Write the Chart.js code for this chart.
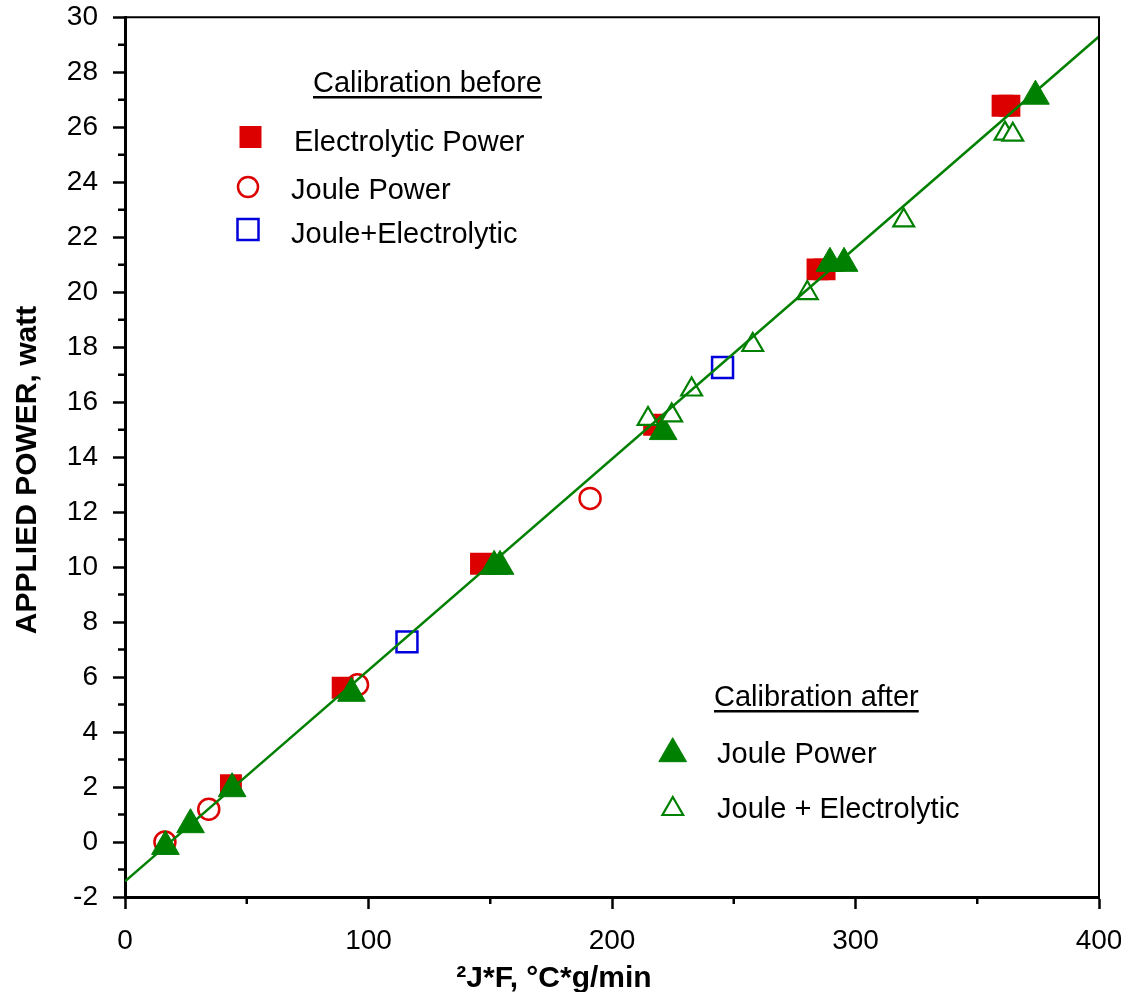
<!DOCTYPE html>
<html>
<head>
<meta charset="utf-8">
<script src="https://cdn.jsdelivr.net/npm/chart.js@4.4.1/dist/chart.umd.min.js"></script>
<style>
  html, body { margin: 0; padding: 0; background: #ffffff; }
  #wrap { width: 1121px; height: 992px; }
</style>
</head>
<body>
<div id="wrap"><canvas id="c" width="1121" height="992"></canvas></div>
<script>
// ---- Data ----
// Calibration before
const electrolyticX = [43.5, 89.4, 146.2, 217.3, 284.4, 287.3, 360.4, 363.2];
const electrolyticY = [2.07, 5.61, 10.12, 15.18, 20.83, 20.83, 26.78, 26.78];
const jouleBeforeX = [16.4, 34.4, 95.5, 191.0];
const jouleBeforeY = [0.0, 1.19, 5.72, 12.5];
const jouleElecBeforeX = [115.8, 245.4];
const jouleElecBeforeY = [7.28, 17.26];
// Calibration after
const jouleAfterX = [16.6, 26.9, 44.0, 93.0, 151.6, 154.0, 221.0, 289.5, 295.3, 373.9];
const jouleAfterY = [-0.16, 0.63, 1.94, 5.41, 10.03, 10.03, 14.93, 21.05, 21.05, 27.13];
const jouleElecAfterX = [214.8, 224.5, 232.7, 257.8, 280.2, 319.8, 361.4, 364.6];
const jouleElecAfterY = [15.39, 15.52, 16.46, 18.08, 19.97, 22.61, 25.77, 25.73];
// Fitted line
const fitX = [0, 400];
const fitY = [-1.43, 29.3];
// Axes
const xMin = 0, xMax = 400, xStep = 100, xMinorTicks = [50, 150, 250, 350];
const yMin = -2, yMax = 30, yStep = 2, yMinorTicks = [-1, 1, 3, 5, 7, 9, 11, 13, 15, 17, 19, 21, 23, 25, 27, 29];
const xTitle = '\u00B2J*F, \u00B0C*g/min';
const yTitle = 'APPLIED POWER, watt';

const RED = '#DD0000', GREEN = '#008000', BLUE = '#0000DD';
const FONT = '"Liberation Sans", Arial, Helvetica, sans-serif';

function pts(xs, ys) { return xs.map((x, i) => ({ x: x, y: ys[i] })); }

const overlay = {
  id: 'overlay',
  afterDraw(chart) {
    const ctx = chart.ctx;
    const ca = chart.chartArea;
    const xs = chart.scales.x, ys = chart.scales.y;
    ctx.save();
    // frame top & right
    ctx.strokeStyle = '#000';
    ctx.lineWidth = 2;
    ctx.beginPath();
    ctx.moveTo(ca.left, ca.top);
    ctx.lineTo(ca.right, ca.top);
    ctx.lineTo(ca.right, ca.bottom);
    ctx.stroke();
    // minor ticks
    ctx.lineWidth = 2.5;
    ctx.beginPath();
    xMinorTicks.forEach(v => {
      const px = xs.getPixelForValue(v);
      ctx.moveTo(px, ca.bottom);
      ctx.lineTo(px, ca.bottom + 7);
    });
    yMinorTicks.forEach(v => {
      const py = ys.getPixelForValue(v);
      ctx.moveTo(ca.left, py);
      ctx.lineTo(ca.left - 7, py);
    });
    ctx.stroke();

    // axis titles
    ctx.fillStyle = '#000';
    ctx.font = 'bold 30px ' + FONT;
    ctx.textAlign = 'center';
    ctx.textBaseline = 'alphabetic';
    ctx.fillText(xTitle, 554, 987);
    ctx.save();
    ctx.translate(36, 470);
    ctx.rotate(-Math.PI / 2);
    ctx.fillText(yTitle, 0, 0);
    ctx.restore();

    // legend texts
    ctx.font = '29px ' + FONT;
    ctx.textAlign = 'left';
    const under = (t, x, y) => {
      ctx.fillText(t, x, y);
      const w = ctx.measureText(t).width;
      ctx.fillRect(x, y + 4, w, 2.5);
    };
    under('Calibration before', 313, 92);
    ctx.fillText('Electrolytic Power', 294, 151);
    ctx.fillText('Joule Power', 291, 199);
    ctx.fillText('Joule+Electrolytic', 291, 243);
    under('Calibration after', 714, 706);
    ctx.fillText('Joule Power', 717, 763);
    ctx.fillText('Joule + Electrolytic', 717, 818);

    // legend markers
    ctx.fillStyle = RED;
    ctx.fillRect(250.5 - 11, 137 - 11, 22, 22);
    ctx.strokeStyle = RED;
    ctx.lineWidth = 2.5;
    ctx.beginPath();
    ctx.arc(248, 187, 10, 0, Math.PI * 2);
    ctx.stroke();
    ctx.strokeStyle = BLUE;
    ctx.strokeRect(248 - 10.5, 229.5 - 10.5, 21, 21);
    const tri = (cx, cy, r) => {
      ctx.beginPath();
      ctx.moveTo(cx, cy - r);
      ctx.lineTo(cx + r * Math.sin(2 * Math.PI / 3), cy + r / 2);
      ctx.lineTo(cx - r * Math.sin(2 * Math.PI / 3), cy + r / 2);
      ctx.closePath();
    };
    ctx.fillStyle = GREEN;
    ctx.strokeStyle = GREEN;
    ctx.lineWidth = 1;
    tri(672.7, 753.7, 16);
    ctx.fill();
    ctx.stroke();
    ctx.lineWidth = 2.2;
    tri(672.8, 809, 12);
    ctx.stroke();
    ctx.restore();
  }
};

new Chart(document.getElementById('c'), {
  type: 'scatter',
  data: {
    datasets: [
      {
        label: 'fit',
        type: 'line',
        data: pts(fitX, fitY),
        borderColor: GREEN,
        borderWidth: 2.5,
        pointRadius: 0,
        fill: false,
        tension: 0
      },
      {
        label: 'Joule + Electrolytic (after)',
        data: pts(jouleElecAfterX, jouleElecAfterY),
        pointStyle: 'triangle',
        pointRadius: 12,
        pointBorderWidth: 2.2,
        pointBorderColor: GREEN,
        pointBackgroundColor: '#ffffff'
      },
      {
        label: 'Joule Power (after)',
        data: pts(jouleAfterX, jouleAfterY),
        pointStyle: 'triangle',
        pointRadius: 16,
        pointBorderWidth: 1,
        pointBorderColor: GREEN,
        pointBackgroundColor: GREEN
      },
      {
        label: 'Joule+Electrolytic (before)',
        data: pts(jouleElecBeforeX, jouleElecBeforeY),
        pointStyle: 'rect',
        pointRadius: 14.8,
        pointBorderWidth: 2.5,
        pointBorderColor: BLUE,
        pointBackgroundColor: 'rgba(0,0,0,0)'
      },
      {
        label: 'Joule Power (before)',
        data: pts(jouleBeforeX, jouleBeforeY),
        pointStyle: 'circle',
        pointRadius: 10.5,
        pointBorderWidth: 2.5,
        pointBorderColor: RED,
        pointBackgroundColor: 'rgba(0,0,0,0)'
      },
      {
        label: 'Electrolytic Power',
        data: pts(electrolyticX, electrolyticY),
        pointStyle: 'rect',
        pointRadius: 15.5,
        pointBorderWidth: 0,
        pointBorderColor: RED,
        pointBackgroundColor: RED
      }
    ]
  },
  options: {
    responsive: false,
    animation: false,
    devicePixelRatio: 1,
    layout: { padding: { top: 17, right: 22, left: 0, bottom: 0 } },
    plugins: {
      legend: { display: false },
      tooltip: { enabled: false }
    },
    scales: {
      x: {
        type: 'linear',
        min: xMin, max: xMax,
        afterFit: (s) => { s.height = 95; s.paddingLeft = 0; s.paddingRight = 0; },
        ticks: {
          stepSize: xStep,
          color: '#000',
          padding: 15,
          maxRotation: 0,
          font: { family: FONT, size: 28 }
        },
        grid: {
          drawOnChartArea: false,
          drawTicks: true,
          tickLength: 12,
          tickWidth: 2.5,
          tickColor: '#000'
        },
        border: { display: true, color: '#000', width: 3 }
      },
      y: {
        type: 'linear',
        min: yMin, max: yMax,
        afterFit: (s) => { s.width = 125; s.paddingTop = 0; s.paddingBottom = 0; },
        ticks: {
          stepSize: yStep,
          color: '#000',
          padding: 15,
          font: { family: FONT, size: 28 }
        },
        grid: {
          drawOnChartArea: false,
          drawTicks: true,
          tickLength: 12,
          tickWidth: 2.5,
          tickColor: '#000'
        },
        border: { display: true, color: '#000', width: 3 }
      }
    }
  },
  plugins: [overlay]
});
</script>
</body>
</html>
